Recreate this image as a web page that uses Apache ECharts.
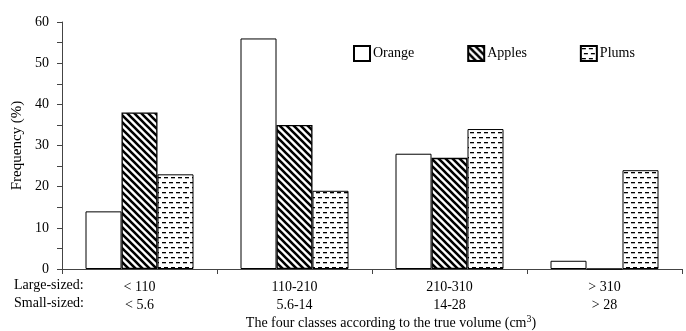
<!DOCTYPE html>
<html><head><meta charset="utf-8">
<script src="https://cdn.jsdelivr.net/npm/echarts@6/dist/echarts.min.js"></script>
<style>html,body{margin:0;padding:0;background:#fff}#c{width:686px;height:331px}</style>
</head><body><div id="c"></div>
<script>
const categories = ['< 110\n< 5.6', '110-210\n5.6-14', '210-310\n14-28', '> 310\n> 28'];
const orange = [14, 56, 28, 2];
const apples = [38, 35, 27, 0];
const plums = [23, 19, 34, 24];
const yTicks = [0, 10, 20, 30, 40, 50, 60];

function stripeTile() {
  const s = 7, c = document.createElement('canvas');
  c.width = s; c.height = s;
  const g = c.getContext('2d');
  g.fillStyle = '#fff'; g.fillRect(0, 0, s, s);
  g.strokeStyle = '#000'; g.lineWidth = 2.6;
  g.beginPath();
  g.moveTo(-1, -1); g.lineTo(s + 1, s + 1);
  g.moveTo(-1 - s, -1); g.lineTo(1, s + 1);
  g.moveTo(s - 1, -1); g.lineTo(2 * s + 1, s + 1);
  g.stroke();
  return c;
}
function dashTile() {
  const w = 7, h = 10, c = document.createElement('canvas');
  c.width = w; c.height = h;
  const g = c.getContext('2d');
  g.fillStyle = '#fff'; g.fillRect(0, 0, w, h);
  g.fillStyle = '#000';
  g.fillRect(1, 2, 4, 1.3);
  g.fillRect(3, 7, 4, 1.3); g.fillRect(-4, 7, 4, 1.3);
  return c;
}
const font = 'Liberation Serif';
const chart = echarts.init(document.getElementById('c'));
const base = { type: 'bar', barWidth: 36, barGap: '0%', animation: false };
chart.setOption({
  animation: false,
  textStyle: { fontFamily: font },
  grid: { left: 62, right: 4, top: 22, bottom: 62 },
  legend: {
    left: 353, top: 45, padding: 0, itemWidth: 16, itemHeight: 15, itemGap: 53,
    icon: 'rect',
    textStyle: { fontFamily: font, fontSize: 14, color: '#000', padding: [0, 0, 0, -2] },
    data: ['Orange', 'Apples', 'Plums']
  },
  xAxis: {
    type: 'category', data: categories,
    axisLine: { lineStyle: { color: '#444', width: 1 } },
    axisTick: { show: true, length: 5, lineStyle: { color: '#444' } },
    axisLabel: { fontFamily: font, fontSize: 14, color: '#000', lineHeight: 18, margin: 9 }
  },
  yAxis: {
    type: 'value', min: 0, max: 60, interval: 5,
    name: 'Frequency (%)', nameLocation: 'middle', nameGap: 37,
    nameTextStyle: { fontFamily: font, fontSize: 15, color: '#000' },
    splitLine: { show: false },
    axisLine: { show: true, lineStyle: { color: '#444', width: 1 } },
    axisTick: { show: true, length: 5, lineStyle: { color: '#444' } },
    axisLabel: {
      fontFamily: font, fontSize: 14, color: '#000', margin: 13,
      formatter: v => yTicks.includes(v) ? String(v) : ''
    }
  },
  graphic: [
    { type: 'text', left: 14, top: 278, style: { text: 'Large-sized:', font: '14px "Liberation Serif"', fill: '#000' } },
    { type: 'text', left: 14, top: 296, style: { text: 'Small-sized:', font: '14px "Liberation Serif"', fill: '#000' } },
    { type: 'text', x: 391, y: 323, style: {
        text: '{a|The four classes according to the true volume (cm}{s|3}{a|)}',
        align: 'center', verticalAlign: 'middle',
        rich: { a: { fontFamily: font, fontSize: 14, color: '#000' },
                s: { fontFamily: font, fontSize: 10, color: '#000', verticalAlign: 'top', padding: [0, 0, 8, 0] } } } }
  ],
  series: [
    Object.assign({}, base, { name: 'Orange', data: orange,
      itemStyle: { color: '#fff', borderColor: '#000', borderWidth: 1 } }),
    Object.assign({}, base, { name: 'Apples', data: apples,
      itemStyle: { color: { image: stripeTile(), repeat: 'repeat' }, borderColor: '#000', borderWidth: 1.3 } }),
    Object.assign({}, base, { name: 'Plums', data: plums,
      itemStyle: { color: { image: dashTile(), repeat: 'repeat' }, borderColor: '#000', borderWidth: 1 } })
  ]
});
</script></body></html>
